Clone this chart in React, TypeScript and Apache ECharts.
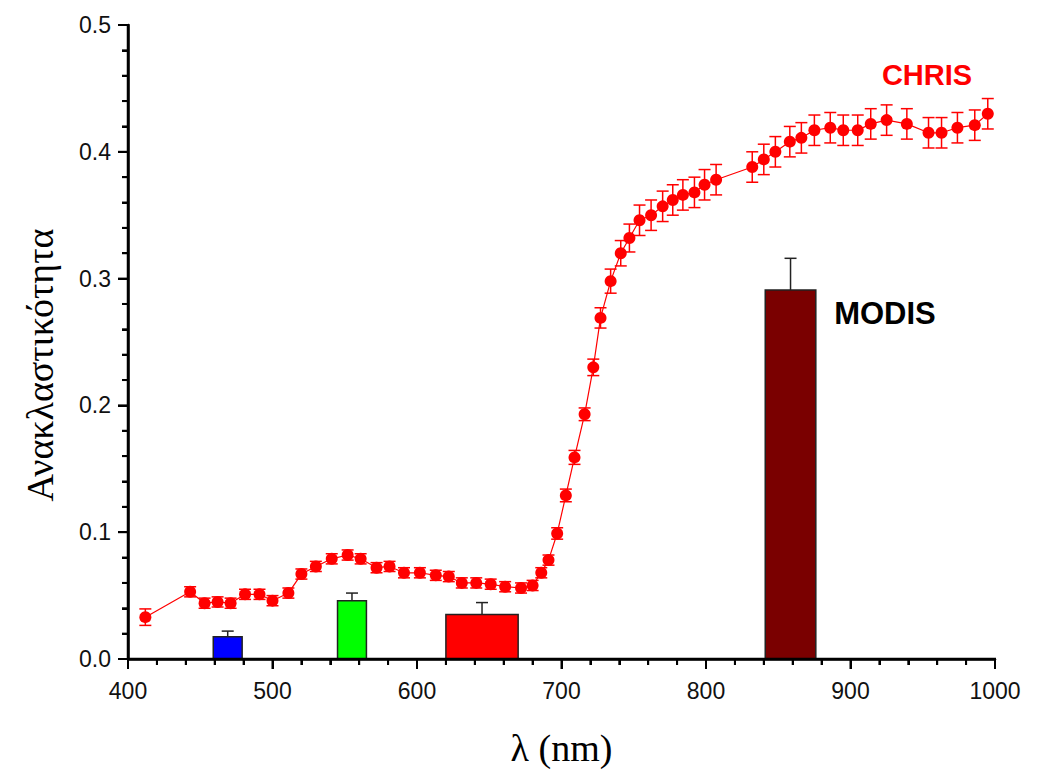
import React, { useEffect, useRef } from "react";
import * as echarts from "echarts";

// CHRIS spectrum (wavelength in nm, reflectance, standard deviation)
const chrisWavelengths = [
  412, 443, 453, 462, 471, 481, 491, 500, 511, 520, 530, 541, 552, 561, 572, 581,
  591, 602, 613, 622, 631, 641, 651, 661, 672, 680, 686, 691, 697, 703, 709, 716,
  722, 727, 734, 741, 747, 754, 762, 770, 777, 784, 792, 799, 807, 832, 840, 848,
  858, 866, 875, 886, 895, 905, 914, 925, 939, 954, 963, 974, 986, 995,
];
const chrisReflectance = [
  0.033, 0.053, 0.044, 0.045, 0.044, 0.051, 0.051, 0.046, 0.052, 0.067, 0.073, 0.079, 0.082, 0.079, 0.072, 0.073,
  0.068, 0.068, 0.066, 0.065, 0.060, 0.060, 0.059, 0.057, 0.056, 0.058, 0.068, 0.078, 0.099, 0.129, 0.159, 0.193,
  0.230, 0.269, 0.298, 0.320, 0.332, 0.346, 0.350, 0.357, 0.362, 0.366, 0.368, 0.374, 0.378, 0.388, 0.394, 0.400,
  0.408, 0.411, 0.417, 0.419, 0.417, 0.417, 0.422, 0.425, 0.422, 0.415, 0.415, 0.419, 0.421, 0.430,
];
const chrisError = [
  0.0065, 0.004, 0.004, 0.004, 0.004, 0.004, 0.004, 0.004, 0.004, 0.004, 0.004, 0.004, 0.004, 0.004, 0.004, 0.004,
  0.004, 0.004, 0.004, 0.004, 0.004, 0.004, 0.004, 0.004, 0.004, 0.004, 0.004, 0.004, 0.0045, 0.005, 0.0055, 0.005,
  0.0065, 0.008, 0.0095, 0.010, 0.011, 0.012, 0.012, 0.012, 0.012, 0.012, 0.012, 0.012, 0.012, 0.012, 0.012, 0.012,
  0.012, 0.012, 0.012, 0.012, 0.012, 0.012, 0.012, 0.012, 0.012, 0.012, 0.012, 0.012, 0.012, 0.012,
];

// MODIS bands (start nm, end nm), reflectance and error
const modisBandStart = [459, 545, 620, 841];
const modisBandEnd = [479, 565, 670, 876];
const modisReflectance = [0.0175, 0.046, 0.035, 0.291];
const modisError = [0.0045, 0.006, 0.0095, 0.025];
const modisColors = ["#0000ff", "#00ff00", "#ff0000", "#7a0000"];

// Axis ticks
const xTicks = [400, 500, 600, 700, 800, 900, 1000];
const yTicks = [0.0, 0.1, 0.2, 0.3, 0.4, 0.5];
const minorPerMajor = 5;

const sansFont = "'Liberation Sans', Arial, sans-serif";
const serifFont = "'Liberation Serif', 'Times New Roman', serif";

export default function App() {
  const ref = useRef<HTMLDivElement>(null);

  useEffect(() => {
    document.body.style.margin = "0";
    if (!ref.current) return;
    const chart = echarts.init(ref.current, undefined, { renderer: "svg" });

    const lineData = chrisWavelengths.map((w, i) => [w, chrisReflectance[i]]);
    const errData = chrisWavelengths.map((w, i) => [w, chrisReflectance[i], chrisError[i]]);
    const barData = modisBandStart.map((s, i) => [s, modisBandEnd[i], modisReflectance[i], modisError[i]]);

    const xMin = xTicks[0];
    const xMax = xTicks[xTicks.length - 1];
    const yMin = yTicks[0];
    const yMax = yTicks[yTicks.length - 1];

    chart.setOption({
      animation: false,
      grid: { left: 128, right: 45, top: 25, bottom: 109 },
      xAxis: {
        type: "value",
        min: xMin,
        max: xMax,
        interval: 100,
        axisLine: { show: true, lineStyle: { color: "#000000", width: 2.5 } },
        axisTick: { show: true, inside: false, length: 10, lineStyle: { color: "#000000", width: 2 } },
        minorTick: { show: true, splitNumber: 5, length: 6, lineStyle: { color: "#000000", width: 2 } },
        splitLine: { show: false },
        axisLabel: {
          color: "#111",
          fontFamily: sansFont,
          fontSize: 23,
          margin: 20,
          formatter: (v: number) => String(v),
        },
        name: "λ (nm)",
        nameLocation: "middle",
        nameGap: 70,
        nameTextStyle: { fontFamily: serifFont, fontSize: 38, color: "#000" },
      },
      yAxis: {
        type: "value",
        min: yMin,
        max: yMax,
        interval: 0.1,
        axisLine: { show: true, lineStyle: { color: "#000000", width: 2.5 } },
        axisTick: { show: true, inside: false, length: 10, lineStyle: { color: "#000000", width: 2 } },
        minorTick: { show: true, splitNumber: 5, length: 6, lineStyle: { color: "#000000", width: 2 } },
        splitLine: { show: false },
        axisLabel: {
          color: "#111",
          fontFamily: sansFont,
          fontSize: 23,
          margin: 17,
          formatter: (v: number) => v.toFixed(1),
        },
      },
      graphic: [
        {
          type: "text",
          x: 40,
          y: 365,
          rotation: Math.PI / 2,
          style: {
            text: "Ανακλαστικότητα",
            fontFamily: serifFont,
            fontSize: 38,
            fill: "#000",
            align: "center",
            verticalAlign: "middle",
          },
        },
        {
          type: "text",
          x: 927,
          y: 75,
          style: {
            text: "CHRIS",
            fontFamily: sansFont,
            fontWeight: "bold",
            fontSize: 29,
            fill: "#ff0000",
            align: "center",
            verticalAlign: "middle",
          },
        },
        {
          type: "text",
          x: 885,
          y: 313,
          style: {
            text: "MODIS",
            fontFamily: sansFont,
            fontWeight: "bold",
            fontSize: 31,
            fill: "#000",
            align: "center",
            verticalAlign: "middle",
          },
        },
      ],
      series: [
        {
          type: "custom",
          name: "MODIS",
          data: barData,
          encode: { x: [0, 1], y: 2 },
          z: 1,
          renderItem: (params: any, api: any) => {
            const x0 = api.value(0);
            const x1 = api.value(1);
            const v = api.value(2);
            const e = api.value(3);
            const pTop = api.coord([x0, v]);
            const pBot = api.coord([x1, 0]);
            const mid = api.coord([(x0 + x1) / 2, v]);
            const pErr = api.coord([(x0 + x1) / 2, v + e]);
            return {
              type: "group",
              children: [
                {
                  type: "line",
                  shape: { x1: mid[0], y1: mid[1], x2: pErr[0], y2: pErr[1] },
                  style: { stroke: "#222", lineWidth: 1.5 },
                },
                {
                  type: "line",
                  shape: { x1: pErr[0] - 6, y1: pErr[1], x2: pErr[0] + 6, y2: pErr[1] },
                  style: { stroke: "#222", lineWidth: 1.5 },
                },
                {
                  type: "rect",
                  shape: { x: pTop[0], y: pTop[1], width: pBot[0] - pTop[0], height: pBot[1] - pTop[1] },
                  style: { fill: modisColors[params.dataIndex], stroke: "#222", lineWidth: 1.5 },
                },
              ],
            };
          },
        },
        {
          type: "custom",
          name: "CHRIS error",
          data: errData,
          encode: { x: 0, y: 1 },
          z: 2,
          renderItem: (params: any, api: any) => {
            const x = api.value(0);
            const v = api.value(1);
            const e = api.value(2);
            const top = api.coord([x, v + e]);
            const bot = api.coord([x, v - e]);
            const st = { stroke: "#ff0000", lineWidth: 1.5 };
            return {
              type: "group",
              children: [
                { type: "line", shape: { x1: top[0], y1: top[1], x2: bot[0], y2: bot[1] }, style: st },
                { type: "line", shape: { x1: top[0] - 6, y1: top[1], x2: top[0] + 6, y2: top[1] }, style: st },
                { type: "line", shape: { x1: bot[0] - 6, y1: bot[1], x2: bot[0] + 6, y2: bot[1] }, style: st },
              ],
            };
          },
        },
        {
          type: "line",
          name: "CHRIS",
          data: lineData,
          z: 3,
          symbol: "circle",
          symbolSize: 12,
          showAllSymbol: true,
          itemStyle: { color: "#ff0000" },
          lineStyle: { color: "#ff0000", width: 1.2 },
        },
        {
          // axis frame with major/minor ticks, positioned through the axes' scales
          type: "custom",
          name: "axes",
          silent: true,
          clip: false,
          z: 10,
          data: [[xMin, yMin]],
          encode: { x: 0, y: 1 },
          renderItem: (params: any, api: any) => {
            const st = { stroke: "#000000", lineWidth: 2 };
            const origin = api.coord([xMin, yMin]);
            const xEnd = api.coord([xMax, yMin]);
            const yEnd = api.coord([xMin, yMax]);
            const children: any[] = [
              { type: "line", shape: { x1: origin[0] - 1, y1: origin[1], x2: xEnd[0] + 1, y2: xEnd[1] }, style: { stroke: "#000", lineWidth: 2.5 } },
              { type: "line", shape: { x1: origin[0], y1: origin[1] + 1, x2: yEnd[0], y2: yEnd[1] - 1 }, style: { stroke: "#000", lineWidth: 2.5 } },
            ];
            const xSteps = (xTicks.length - 1) * minorPerMajor;
            for (let i = 0; i <= xSteps; i++) {
              const xv = xMin + ((xMax - xMin) * i) / xSteps;
              const p = api.coord([xv, yMin]);
              const len = i % minorPerMajor === 0 ? 10 : 6;
              children.push({ type: "line", shape: { x1: p[0], y1: p[1], x2: p[0], y2: p[1] + len }, style: st });
            }
            const ySteps = (yTicks.length - 1) * minorPerMajor;
            for (let i = 0; i <= ySteps; i++) {
              const yv = yMin + ((yMax - yMin) * i) / ySteps;
              const p = api.coord([xMin, yv]);
              const len = i % minorPerMajor === 0 ? 10 : 6;
              children.push({ type: "line", shape: { x1: p[0] - len, y1: p[1], x2: p[0], y2: p[1] }, style: st });
            }
            return { type: "group", children };
          },
        },
      ],
    });

    return () => {
      chart.dispose();
    };
  }, []);

  return <div ref={ref} style={{ width: 1040, height: 772 }} />;
}
